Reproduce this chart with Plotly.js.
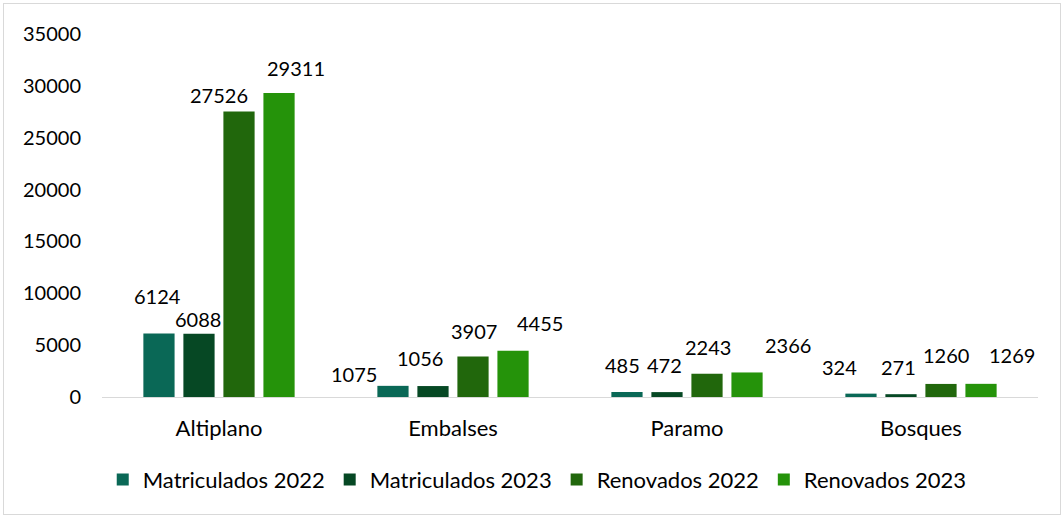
<!DOCTYPE html>
<html lang="en">
<head>
    <meta charset="UTF-8">
    <title>Matriculados y Renovados</title>
    <script src="https://cdn.plot.ly/plotly-3.0.1.min.js"></script>
    <style>
        body { margin: 0; background: white; }
        #wrap { position: relative; width: 1064px; height: 517px; }
        #plot { width: 1064px; height: 517px; }
        #frame {
            position: absolute; left: 3px; top: 3px; right: 3px; bottom: 2px;
            border: 1px solid #d9d9d9; pointer-events: none;
        }
    </style>
</head>
<body>
    <div id="wrap">
        <div id="plot"></div>
        <div id="frame"></div>
    </div>
    <script>
        const zones = ['Altiplano', 'Embalses', 'Paramo', 'Bosques'];
        const seriesNames = ['Matriculados 2022', 'Matriculados 2023', 'Renovados 2022', 'Renovados 2023'];
        const matriculados2022 = [6124, 1075, 485, 324];
        const matriculados2023 = [6088, 1056, 472, 271];
        const renovados2022 = [27526, 3907, 2243, 1260];
        const renovados2023 = [29311, 4455, 2366, 1269];
        const colors = ['#0a6856', '#064824', '#21670c', '#25930a'];

        // label nudges in px [dx, dy] per series, per zone (labels were hand-placed in the original)
        const labelNudge = [
            [[2, 37], [-36, 12], [-1, 27], [-18, 27]],
            [[0, 15], [-12, 28], [-1, 27], [-1, 27]],
            [[-21, 17], [0, 25], [0, 27], [4, 29]],
            [[14, 25], [24, 28], [38, 27], [28, 29]]
        ];

        const font = 'Lato, "Open Sans", sans-serif';
        const values = [matriculados2022, matriculados2023, renovados2022, renovados2023];
        const barPitch = 42.3;

        const traces = values.map((v, i) => ({
            type: 'bar',
            name: seriesNames[i],
            x: zones,
            y: v,
            marker: { color: colors[i] },
            hoverinfo: 'x+y+name'
        }));

        const annotations = [];
        values.forEach((v, i) => {
            v.forEach((val, j) => {
                annotations.push({
                    x: zones[j],
                    y: val,
                    xref: 'x',
                    yref: 'y',
                    text: String(val),
                    showarrow: false,
                    xanchor: 'center',
                    yanchor: 'middle',
                    xshift: (i - 1.5) * barPitch + labelNudge[i][j][0],
                    yshift: labelNudge[i][j][1],
                    font: { family: font, size: 20, color: '#000' }
                });
            });
        });

        const layout = {
            width: 1064,
            height: 517,
            margin: { l: 102, r: 26, t: 34, b: 120 },
            paper_bgcolor: 'white',
            plot_bgcolor: 'white',
            font: { family: font, size: 20, color: '#000' },
            barmode: 'group',
            bargap: 0.316,
            bargroupgap: 0.22,
            xaxis: {
                showline: true,
                linecolor: '#d9d9d9',
                linewidth: 1,
                ticks: '',
                tickfont: { size: 22 },
                ticklabelstandoff: 12,
                showgrid: false
            },
            yaxis: {
                range: [0, 35000],
                dtick: 5000,
                showgrid: false,
                zeroline: false,
                showline: false,
                ticks: '',
                tickfont: { size: 20 },
                tickformat: 'd',
                ticklabelstandoff: 20
            },
            annotations: annotations,
            showlegend: true,
            legend: {
                orientation: 'h',
                x: 0.465,
                xanchor: 'center',
                y: -0.17,
                yanchor: 'top',
                font: { size: 22 },
                itemwidth: 30,
                traceorder: 'normal'
            }
        };

        Plotly.newPlot('plot', traces, layout, { displayModeBar: false });
    </script>
</body>
</html>
